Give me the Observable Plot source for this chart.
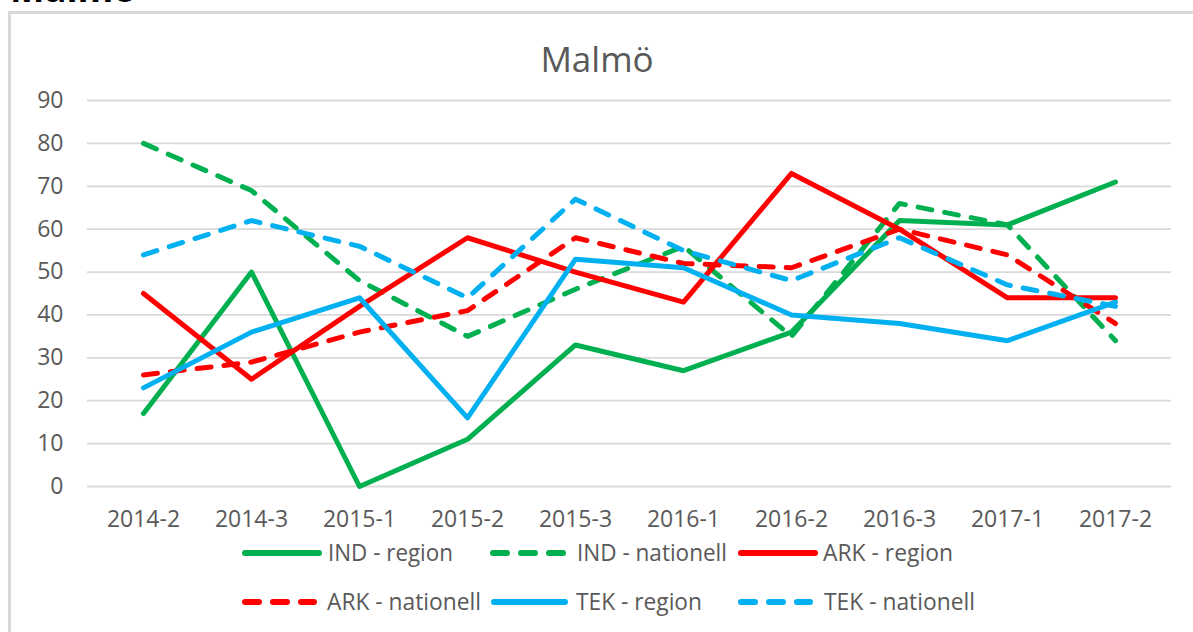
<!DOCTYPE html>
<html>
<head>
<meta charset="utf-8">
<script src="https://cdn.jsdelivr.net/npm/d3@7"></script>
<script src="https://cdn.jsdelivr.net/npm/@observablehq/plot@0.6"></script>
<style>
  html, body { margin: 0; padding: 0; background: #fff; }
  #wrap { position: relative; width: 1193px; height: 632px; overflow: hidden; background: #fff; }
  #frame { position: absolute; left: 8px; top: 11px; width: 3000px; height: 2000px;
           border-left: 3px solid #d9d9d9; border-top: 3px solid #d9d9d9; box-sizing: border-box; }
  #chart { position: absolute; left: 0; top: 0; }
  #overlay, #legend { position: absolute; left: 0; top: 0; pointer-events: none; }
</style>
</head>
<body>
<div id="wrap">
  <div id="frame"></div>
  <div id="chart"></div>
  <svg id="overlay" width="1193" height="100"></svg>
  <svg id="legend" width="1193" height="632"></svg>
</div>
<script>
const categories = ["2014-2","2014-3","2015-1","2015-2","2015-3","2016-1","2016-2","2016-3","2017-1","2017-2"];
const yTicks = [0,10,20,30,40,50,60,70,80,90];

const indRegion    = [17, 50,  0, 11, 33, 27, 36, 62, 61, 71];
const indNationell = [80, 69, 48, 35, 46, 56, 35, 66, 61, 34];
const arkRegion    = [45, 25, 42, 58, 50, 43, 73, 60, 44, 44];
const arkNationell = [26, 29, 36, 41, 58, 52, 51, 60, 54, 38];
const tekRegion    = [23, 36, 44, 16, 53, 51, 40, 38, 34, 43];
const tekNationell = [54, 62, 56, 44, 67, 55, 48, 58, 47, 42];

const seriesNames = ["IND - region","IND - nationell","ARK - region","ARK - nationell","TEK - region","TEK - nationell"];
const seriesValues = [indRegion, indNationell, arkRegion, arkNationell, tekRegion, tekNationell];
const seriesColors = ["#00B050","#00B050","#FF0000","#FF0000","#00B0F0","#00B0F0"];
const seriesDashed = [false, true, false, true, false, true];

const textColor = "#595959";

const lineMarks = seriesNames.map((name, i) => {
  const rows = categories.map((c, j) => ({period: c, value: seriesValues[i][j], series: name}));
  return Plot.line(rows, {
    x: "period", y: "value",
    stroke: seriesColors[i], strokeWidth: 5,
    strokeLinecap: "round", strokeLinejoin: "round",
    strokeDasharray: seriesDashed[i] ? "14,13" : null
  });
});

const chart = Plot.plot({
  width: 1193, height: 545,
  marginLeft: 87, marginRight: 22, marginTop: 100, marginBottom: 59,
  style: {fontFamily: "'Open Sans', sans-serif", fontSize: "23px", color: textColor, background: "transparent", overflow: "visible"},
  x: {type: "point", domain: categories, padding: 0.5, label: null},
  y: {domain: [0, 90], label: null},
  marks: [
    Plot.ruleY(yTicks, {stroke: "#d9d9d9", strokeWidth: 1.8}),
    Plot.axisY({ticks: yTicks, tickSize: 0, tickPadding: 24, label: null, fill: textColor}),
    Plot.axisX({tickSize: 0, tickPadding: 24, label: null, fill: textColor}),
    ...lineMarks
  ]
});
document.getElementById("chart").appendChild(chart);

// Title and clipped heading
const ov = d3.select("#overlay");
ov.append("text").attr("x", 597).attr("y", 72).attr("text-anchor", "middle")
  .attr("font-family", "'Open Sans', sans-serif").attr("font-size", 35).attr("fill", textColor)
  .text("Malmö");
ov.append("text").attr("x", 10).attr("y", 2).attr("font-weight", "bold")
  .attr("font-family", "'Open Sans', sans-serif").attr("font-size", 36).attr("fill", "#000")
  .attr("textLength", 126).attr("lengthAdjust", "spacingAndGlyphs")
  .text("Malmö");

// Legend
const legendLayout = [
  {x0: 242, x1: 322, tx: 328, tw: 125, y: 553},
  {x0: 490, x1: 567, tx: 577, tw: 150, y: 553},
  {x0: 738, x1: 818, tx: 823, tw: 130, y: 553},
  {x0: 242, x1: 317, tx: 327, tw: 154, y: 602},
  {x0: 491, x1: 568, tx: 576, tw: 126, y: 602},
  {x0: 738, x1: 813, tx: 824, tw: 151, y: 602}
];
const lg = d3.select("#legend");
seriesNames.forEach((name, i) => {
  const L = legendLayout[i];
  lg.append("line").attr("x1", L.x0 + 3).attr("x2", L.x1 - 3).attr("y1", L.y).attr("y2", L.y)
    .attr("stroke", seriesColors[i]).attr("stroke-width", 6).attr("stroke-linecap", "round")
    .attr("stroke-dasharray", seriesDashed[i] ? "14,14" : null);
  lg.append("text").attr("x", L.tx).attr("y", L.y).attr("dy", "0.36em")
    .attr("font-family", "'Open Sans', sans-serif").attr("font-size", 23).attr("fill", textColor)
    .attr("textLength", L.tw).attr("lengthAdjust", "spacingAndGlyphs")
    .text(name);
});
</script>
</body>
</html>
